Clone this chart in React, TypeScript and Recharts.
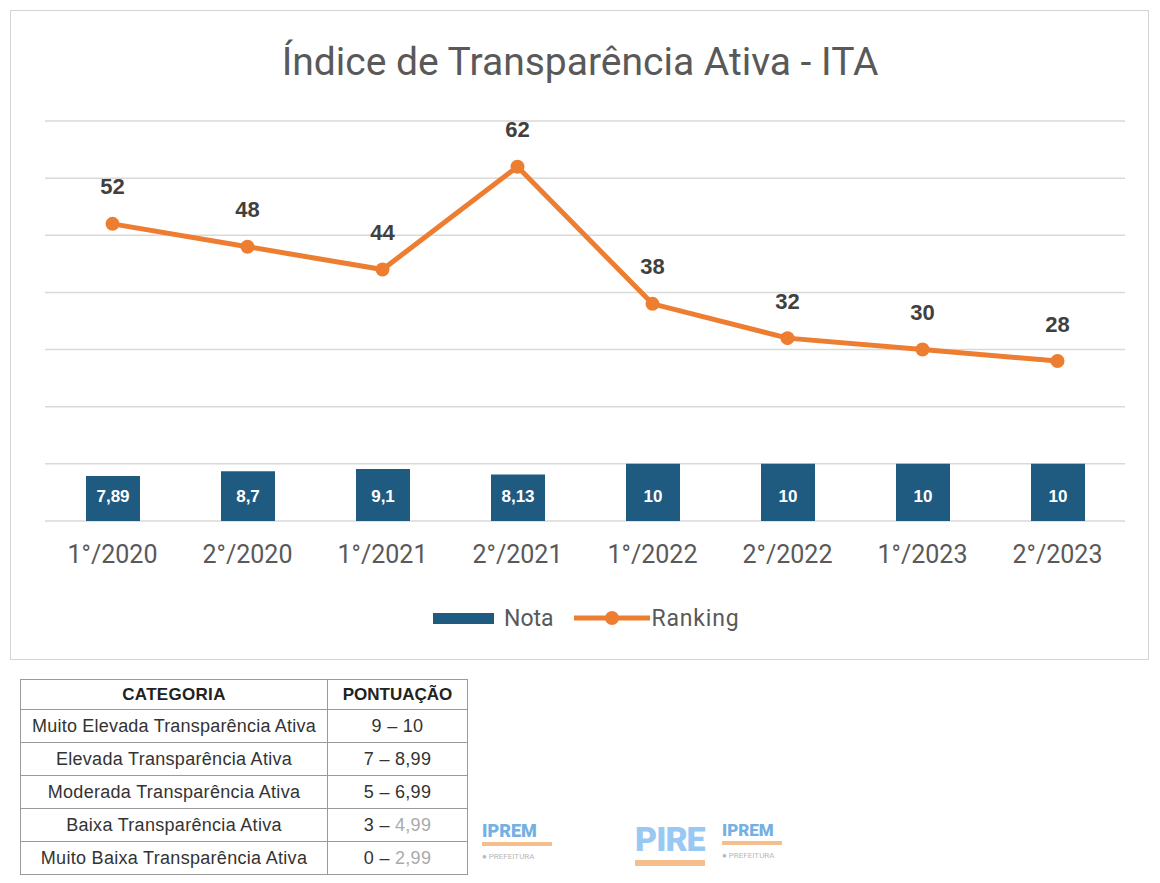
import React from "react"
import { ComposedChart, Bar, Line, XAxis, YAxis, CartesianGrid, LabelList } from "recharts"

const periods = ["1°/2020", "2°/2020", "1°/2021", "2°/2021", "1°/2022", "2°/2022", "1°/2023", "2°/2023"]
const nota = [7.89, 8.7, 9.1, 8.13, 10, 10, 10, 10]
const ranking = [52, 48, 44, 62, 38, 32, 30, 28]
const yTicks = [0, 10, 20, 30, 40, 50, 60, 70]

const categorias = [
  "Muito Elevada Transparência Ativa",
  "Elevada Transparência Ativa",
  "Moderada Transparência Ativa",
  "Baixa Transparência Ativa",
  "Muito Baixa Transparência Ativa",
]
const pontuacoes = ["9 – 10", "7 – 8,99", "5 – 6,99", "3 – 4,99", "0 – 2,99"]

const data = periods.map((p, i) => ({ period: p, nota: nota[i], ranking: ranking[i] }))

const BAR_COLOR = "#1f5b80"
const LINE_COLOR = "#ed7d31"
const TEXT_GRAY = "#595959"

const fmt = (v: number) => String(v).replace(".", ",")

const BarValue = (props: any) => {
  const { x, y, width, height, value } = props
  return (
    <text
      x={x + width / 2}
      y={y + height - 25}
      textAnchor="middle"
      dominantBaseline="central"
      fill="#ffffff"
      fontFamily="'Liberation Sans', Arial, sans-serif"
      fontWeight="bold"
      fontSize={17}
    >
      {fmt(value)}
    </text>
  )
}

const LineValue = (props: any) => {
  const { x, y, value } = props
  return (
    <text
      x={x}
      y={y - 37}
      textAnchor="middle"
      dominantBaseline="central"
      fill="#404040"
      fontFamily="'Liberation Sans', Arial, sans-serif"
      fontWeight="bold"
      fontSize={22}
    >
      {value}
    </text>
  )
}

const cell: React.CSSProperties = {
  border: "1px solid #9a9a9a",
  padding: 0,
  textAlign: "center",
  color: "#333",
}

export default function App() {
  return (
    <div style={{ position: "relative", width: 1160, height: 883, background: "#fff", overflow: "hidden" }}>
      <style>{"body{margin:0}"}</style>

      {/* chart frame */}
      <div
        style={{
          position: "absolute",
          left: 10,
          top: 10,
          width: 1137,
          height: 648,
          border: "1px solid #d4d4d4",
        }}
      />

      <div
        style={{
          position: "absolute",
          left: 0,
          top: 43,
          width: 1160,
          textAlign: "center",
          fontFamily: "Roboto, sans-serif",
          fontSize: 39,
          lineHeight: 1,
          color: TEXT_GRAY,
        }}
      >
        Índice de Transparência Ativa - ITA
      </div>

      <div style={{ position: "absolute", left: 0, top: 0 }}>
        <ComposedChart width={1160} height={660} data={data} margin={{ top: 121, right: 35, bottom: 99, left: 45 }}>
          <CartesianGrid vertical={false} stroke="#d9d9d9" strokeWidth={1.5} />
          <XAxis
            dataKey="period"
            axisLine={false}
            tickLine={false}
            height={40}
            tickMargin={18}
            tick={{ fill: TEXT_GRAY, fontSize: 25, fontFamily: "Roboto, sans-serif" }}
            interval={0}
          />
          <YAxis hide domain={[0, 70]} ticks={yTicks} />
          <Bar dataKey="nota" fill={BAR_COLOR} barSize={54} isAnimationActive={false}>
            <LabelList dataKey="nota" content={BarValue} />
          </Bar>
          <Line
            dataKey="ranking"
            stroke={LINE_COLOR}
            strokeWidth={5}
            dot={{ r: 7, fill: LINE_COLOR, stroke: LINE_COLOR, strokeWidth: 0 }}
            activeDot={false}
            isAnimationActive={false}
          >
            <LabelList dataKey="ranking" content={LineValue} />
          </Line>
        </ComposedChart>
      </div>

      {/* legend */}
      <div
        style={{
          position: "absolute",
          left: 433,
          top: 603,
          height: 30,
          display: "flex",
          alignItems: "center",
          fontFamily: "Roboto, sans-serif",
          fontSize: 23,
          color: TEXT_GRAY,
        }}
      >
        <div style={{ width: 61, height: 11, background: BAR_COLOR }} />
        <span style={{ marginLeft: 10 }}>Nota</span>
        <svg width={80} height={30} style={{ marginLeft: 18 }}>
          <line x1={2} y1={15} x2={78} y2={15} stroke={LINE_COLOR} strokeWidth={5} />
          <circle cx={40} cy={15} r={7} fill={LINE_COLOR} />
        </svg>
        <span style={{ letterSpacing: 0.8 }}>Ranking</span>
      </div>

      {/* score table */}
      <table
        style={{
          position: "absolute",
          left: 20,
          top: 679,
          width: 448,
          borderCollapse: "collapse",
          fontFamily: "'Liberation Sans', Arial, sans-serif",
          fontSize: 18,
          letterSpacing: 0.3,
        }}
      >
        <tbody>
          <tr style={{ height: 30 }}>
            <td style={{ ...cell, width: 306, fontWeight: "bold", color: "#222", fontSize: 17 }}>CATEGORIA</td>
            <td style={{ ...cell, fontWeight: "bold", color: "#222", fontSize: 17, letterSpacing: 0 }}>PONTUAÇÃO</td>
          </tr>
          {categorias.map((c, i) => (
            <tr key={c} style={{ height: 33 }}>
              <td style={{ ...cell, letterSpacing: i === 0 ? 0.2 : 0.3 }}>{c}</td>
              <td style={cell}>
                {i >= 3 ? (
                  <>
                    {pontuacoes[i].slice(0, 4)}
                    <span style={{ color: "#aaa" }}>{pontuacoes[i].slice(4)}</span>
                  </>
                ) : (
                  pontuacoes[i]
                )}
              </td>
            </tr>
          ))}
        </tbody>
      </table>

      {/* logos (approximation) */}
      <div style={{ position: "absolute", left: 482, top: 822, width: 70, fontFamily: "Roboto, sans-serif", opacity: 0.7 }}>
        <div style={{ color: "#3a8fd6", fontWeight: 900, fontSize: 18, lineHeight: 1 }}>IPREM</div>
        <div style={{ height: 4, background: "#f3a35c", marginTop: 2 }} />
        <div style={{ color: "#999", fontSize: 8, marginTop: 6 }}>● PREFEITURA</div>
      </div>
      <div style={{ position: "absolute", left: 635, top: 822, fontFamily: "Roboto, sans-serif", opacity: 0.7 }}>
        <div style={{ color: "#6fb2ef", fontWeight: 900, fontSize: 34, lineHeight: 1, letterSpacing: -1 }}>PIRE</div>
        <div style={{ height: 6, width: 70, background: "#f3a35c", marginTop: 4 }} />
      </div>
      <div style={{ position: "absolute", left: 722, top: 822, width: 60, fontFamily: "Roboto, sans-serif", opacity: 0.7 }}>
        <div style={{ color: "#3a8fd6", fontWeight: 900, fontSize: 17, lineHeight: 1 }}>IPREM</div>
        <div style={{ height: 4, background: "#f3a35c", marginTop: 2 }} />
        <div style={{ color: "#999", fontSize: 8, marginTop: 6 }}>● PREFEITURA</div>
      </div>
    </div>
  )
}
